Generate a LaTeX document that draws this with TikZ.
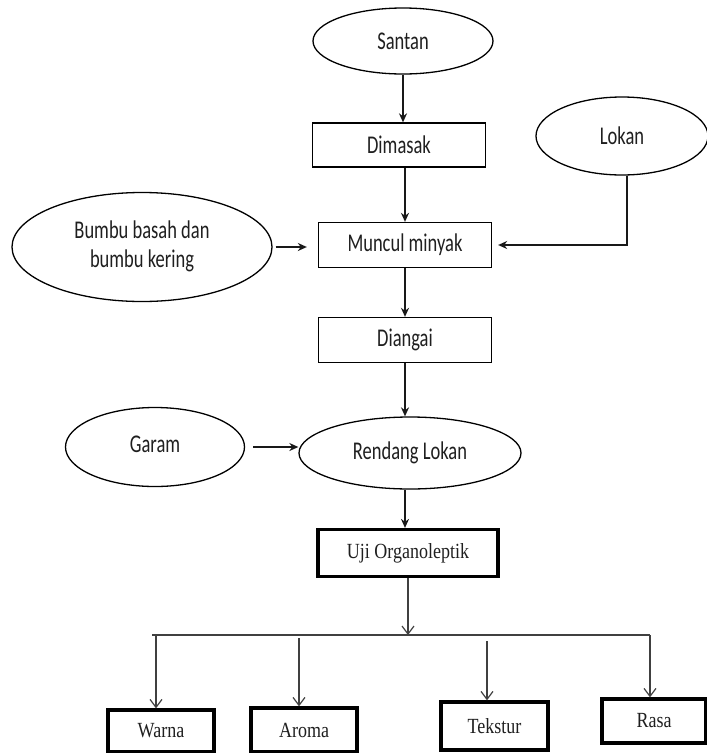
\documentclass[tikz,border=0pt]{standalone}
\usepackage{fontspec}
\usepackage{graphicx}
\usetikzlibrary{shapes.geometric,arrows.meta}
\newfontfamily\calfont{Carlito}
\newfontfamily\tmsfont{Liberation Serif}
\newcommand{\stxt}[1]{\scalebox{1}[1.38]{#1}}
\newcommand{\ttxt}[1]{\scalebox{1}[1.2]{#1}}
\tikzset{
  base/.style={inner sep=0pt, draw=black, text=black!88},
  ellnode/.style={base, ellipse, line width=1.3pt, font=\calfont\fontsize{18.5}{21}\selectfont},
  boxnode/.style={base, rectangle, line width=1.3pt, font=\calfont\fontsize{18.5}{21}\selectfont},
  tbox/.style={base, rectangle, line width=3.2pt, font=\tmsfont\fontsize{18}{21}\selectfont},
  farr/.style={line width=1.4pt, draw=black!90, -{Stealth[length=9pt,width=8pt]}},
  oarr/.style={line width=1.2pt, draw=black!75, -{Straight Barb[length=8pt,width=12pt,line width=1.2pt]}},
  gline/.style={line width=1.4pt, draw=black!75}
}
\begin{document}
\begin{tikzpicture}[x=1pt,y=-1pt]
\useasboundingbox (0,0) rectangle (707,753);
% upper part
\node[ellnode, minimum width=180pt, minimum height=66pt] (santan) at (403,41) {\stxt{Santan}};
\node[boxnode, minimum width=173pt, minimum height=44pt] (dimasak) at (399,145) {\stxt{Dimasak}};
\node[ellnode, minimum width=172pt, minimum height=78pt] (lokan) at (622,136) {\stxt{Lokan}};
\node[ellnode, minimum width=260pt, minimum height=109pt] (bumbu) at (142,247) {\stxt{\begin{tabular}{@{}c@{}}Bumbu basah dan\\bumbu kering\end{tabular}}};
\node[boxnode, minimum width=173pt, minimum height=45pt] (muncul) at (405,245) {\stxt{Muncul minyak}};
\node[boxnode, minimum width=173pt, minimum height=45pt] (diangai) at (405,340) {\stxt{Diangai}};
\node[ellnode, minimum width=179pt, minimum height=79pt] (garam) at (155,447) {\raisebox{6pt}{\stxt{Garam}}};
\node[ellnode, minimum width=222pt, minimum height=72pt] (rendang) at (410,453) {\stxt{Rendang Lokan}};
% lower part
\node[tbox, minimum width=180pt, minimum height=47pt] (uji) at (408,553) {\ttxt{Uji Organoleptik}};
\node[tbox, minimum width=106pt, minimum height=42pt] (warna) at (161,731) {\ttxt{Warna}};
\node[tbox, minimum width=106pt, minimum height=44pt] (aroma) at (304,730) {\ttxt{Aroma}};
\node[tbox, minimum width=107pt, minimum height=48pt] (tekstur) at (494.5,726) {\ttxt{Tekstur}};
\node[tbox, minimum width=104pt, minimum height=44pt] (rasa) at (654,721) {\ttxt{Rasa}};
% upper connectors
\draw[farr] (santan.south) -- (santan.south |- dimasak.north);
\draw[farr] (muncul.north |- dimasak.south) -- (muncul.north);
\draw[farr] (muncul.south) -- (diangai.north);
\draw[farr] (diangai.south) -- (diangai.south |- rendang.north);
\draw[farr] (diangai.south |- rendang.south) -- (diangai.south |- uji.north);
\draw[farr, shorten <=3pt, shorten >=11pt] (bumbu.east) -- (bumbu.east -| muncul.west);
\draw[farr, shorten >=6pt] ([xshift=5pt]lokan.south) |- (muncul.east);
\draw[farr, shorten <=8pt] (garam.east) -- (garam.east -| rendang.west);
% lower connectors
\coordinate (barL) at (152,635);
\coordinate (barR) at (650,635);
\coordinate (dW) at (156,636);
\coordinate (dA) at (299,638);
\coordinate (dT) at (487,641);
\draw[gline] (barL) -- (barR);
\draw[oarr] (uji.south) -- (uji.south |- barL);
\draw[oarr] (dW) -- (dW |- warna.north);
\draw[oarr] (dA) -- (dA |- aroma.north);
\draw[oarr] (dT) -- (dT |- tekstur.north);
\draw[oarr] (barR) -- (barR |- rasa.north);
\end{tikzpicture}
\end{document}
